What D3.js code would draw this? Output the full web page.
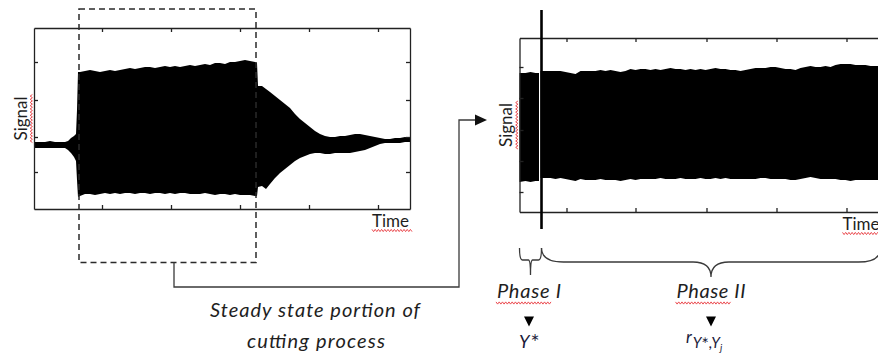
<!DOCTYPE html>
<html>
<head>
<meta charset="utf-8">
<script src="https://cdn.jsdelivr.net/npm/d3@7"></script>
<style>
  html, body { margin: 0; padding: 0; background: #fff; }
  svg { display: block; }
  text { font-family: Lato, "Open Sans", sans-serif; }
</style>
</head>
<body>
<svg id="fig" width="878" height="361"></svg>
<script>
// whole cut: sample index and upper / lower envelope of the signal
const fullTime = [0, 60, 110, 160, 210, 260, 310, 340, 370, 400, 420, 430, 440,
  460, 510, 560, 610, 660, 710, 760, 810, 860, 910, 960, 1010, 1060, 1110, 1160, 1210, 1260, 1310,
  1360, 1410, 1460, 1510, 1560, 1610, 1660, 1710, 1760, 1810, 1860, 1910, 1960, 2010, 2060, 2110, 2160, 2210,
  2230, 2240, 2280, 2320, 2360,
  2410, 2460, 2510, 2560, 2610, 2660, 2710, 2760, 2810, 2860, 2910, 2960, 3010, 3060, 3110, 3160,
  3210, 3260, 3310, 3360, 3410, 3460, 3510, 3560, 3610, 3660, 3710, 3760]
const fullUpper = [3, 3, 3, 4, 3, 3, 3, 4, 7, 9, 11, 35, 73,
  73, 74, 75, 74, 73, 74, 75, 74, 75, 76, 77, 76, 77, 78, 78, 77, 78, 79,
  78, 79, 78, 79, 80, 79, 80, 81, 80, 82, 82, 81, 83, 83, 84, 85, 84, 83,
  82, 59, 59, 56, 53,
  49, 45, 41, 37, 31, 26, 22, 18, 14, 11, 9, 8, 8, 9, 9, 10,
  11, 11, 10, 9, 8, 7, 6, 6, 7, 7, 8, 7]
const fullLower = [-3, -3, -3, -3, -3, -3, -3, -5, -8, -12, -16, -35, -52,
  -51, -49, -49, -50, -49, -48, -49, -48, -49, -48, -48, -49, -48, -48, -49, -48, -48, -49,
  -48, -49, -48, -48, -49, -49, -49, -48, -49, -50, -49, -49, -50, -49, -50, -50, -50, -51,
  -51, -42, -41, -44, -39,
  -33, -28, -24, -20, -16, -13, -11, -9, -8, -8, -9, -9, -8, -8, -8, -8,
  -7, -6, -5, -3, -1, 1, 2, 2, 2, 2, 3, 3]
const fullTicksX = [680, 1370, 2060, 2750, 3440]
const fullTicksY = [-27, 8, 45, 83]
const steadyWindow = [450, 2220]

// steady state part: phase I and phase II envelopes
const phase1Time = [0, 60, 110, 160, 195]
const phase1Upper = [53, 53, 54, 53, 53]
const phase1Lower = [-56, -55, -56, -55, -55]
const phase2Time = [210, 260, 310, 360, 410, 460, 510, 560, 610, 660,
  710, 760, 810, 860, 910, 960, 1010, 1060, 1110, 1160,
  1210, 1260, 1310, 1360, 1410, 1460, 1510, 1560, 1610, 1660,
  1710, 1760, 1810, 1860, 1910, 1960, 2010, 2060, 2110, 2160,
  2210, 2260, 2310, 2360, 2410, 2460, 2510, 2560, 2610, 2660,
  2710, 2760, 2810, 2860, 2910, 2960, 3010, 3060, 3110, 3160,
  3210, 3260, 3310, 3360, 3410, 3460, 3510, 3560, 3610, 3800]
const phase2Upper = [55, 55, 55, 55, 55, 54, 53, 52, 55, 55,
  55, 55, 56, 55, 56, 55, 54, 55, 57, 56,
  57, 57, 56, 57, 56, 57, 58, 57, 57, 56,
  57, 56, 57, 56, 57, 58, 57, 57, 56, 56,
  55, 56, 57, 58, 58, 58, 59, 59, 58, 57,
  57, 56, 58, 59, 60, 59, 59, 60, 59, 61,
  62, 62, 62, 61, 61, 61, 60, 60, 60, 60]
const phase2Lower = [-52, -52, -52, -53, -52, -53, -54, -55, -53, -54,
  -54, -54, -53, -54, -54, -54, -55, -54, -53, -54,
  -53, -53, -53, -53, -52, -53, -53, -53, -52, -53,
  -53, -53, -52, -53, -53, -52, -53, -52, -53, -53,
  -53, -53, -53, -53, -52, -52, -53, -53, -53, -53,
  -54, -54, -53, -52, -51, -52, -53, -53, -53, -53,
  -54, -54, -55, -54, -54, -54, -54, -54, -54, -54]
const steadyTicksX = [470, 1160, 1870, 2570, 3270]
const steadyTicksY = [-66, -35, -4, 28, 59]
const phaseSplit = 220
const phaseSpans = [[0, 220], [220, 3610]]
const phaseNames = ['Phase I', 'Phase II']

const svg = d3.select('#fig')
const ink = '#1e1e1e'

function zip(time, upper, lower) {
  return time.map((t, i) => ({ t: t, hi: upper[i], lo: lower[i] }))
}

function drawPanel(p) {
  const x = d3.scaleLinear().domain(p.xDomain).range([p.left, p.right])
  const y = d3.scaleLinear().domain(p.yDomain).range([p.bottom, p.top])
  const g = svg.append('g')

  const area = d3.area()
    .x(d => x(d.t))
    .y0(d => y(d.lo))
    .y1(d => y(d.hi))
  p.series.forEach(s => {
    g.append('path').datum(s).attr('d', area).attr('fill', '#000')
  })

  // frame with inward ticks on all four sides
  const axes = [
    [d3.axisBottom(x).tickValues(p.ticksX), `translate(0,${p.bottom})`],
    [d3.axisTop(x).tickValues(p.ticksX), `translate(0,${p.top})`],
    [d3.axisLeft(y).tickValues(p.ticksY), `translate(${p.left},0)`],
    [d3.axisRight(y).tickValues(p.ticksY), `translate(${p.right},0)`],
  ]
  axes.forEach(([ax, tr]) => {
    g.append('g')
      .attr('transform', tr)
      .call(ax.tickSizeInner(-4).tickSizeOuter(0).tickFormat(''))
      .call(a => a.selectAll('path, line').attr('stroke', '#222').attr('stroke-width', 1.3))
  })

  g.append('text')
    .attr('transform', `translate(${p.left - 7.5},${(p.top + p.bottom) / 2}) rotate(-90)`)
    .attr('text-anchor', 'middle')
    .attr('font-size', 17)
    .attr('fill', ink)
    .text('Signal')
  squiggle(p.left - 2.7, (p.top + p.bottom) / 2 - 24, p.left - 2.7, (p.top + p.bottom) / 2 + 24)

  g.append('text')
    .attr('x', p.timeX)
    .attr('y', p.bottom + 18)
    .attr('font-size', 17)
    .attr('fill', ink)
    .text('Time')
  squiggle(p.timeX, p.bottom + 21.5, p.timeX + 40, p.bottom + 21.5)

  return { x, y }
}

function squiggle(x0, y0, x1, y1) {
  const len = Math.hypot(x1 - x0, y1 - y0)
  const n = Math.round(len / 1.6)
  const ux = (x1 - x0) / len, uy = (y1 - y0) / len
  const pts = d3.range(n + 1).map(i => {
    const s = i * len / n, o = (i % 2 ? 1 : -1) * 1.1
    return [x0 + ux * s - uy * o, y0 + uy * s + ux * o]
  })
  svg.append('path').attr('d', d3.line()(pts))
    .attr('fill', 'none').attr('stroke', '#e8383d').attr('stroke-width', 0.9)
}

// left: whole cutting signal
const full = drawPanel({
  left: 34, right: 410, top: 28, bottom: 209,
  xDomain: [0, 3760], yDomain: [-64, 117],
  ticksX: fullTicksX, ticksY: fullTicksY, timeX: 372,
  series: [zip(fullTime, fullUpper, fullLower)],
})

// right: steady state portion
const steady = drawPanel({
  left: 519.5, right: 899.5, top: 38, bottom: 212,
  xDomain: [0, 3800], yDomain: [-86, 88],
  ticksX: steadyTicksX, ticksY: steadyTicksY, timeX: 842.5,
  series: [zip(phase1Time, phase1Upper, phase1Lower), zip(phase2Time, phase2Upper, phase2Lower)],
})

// phase boundary marker
const splitX = steady.x(phaseSplit)
svg.append('line')
  .attr('x1', splitX).attr('x2', splitX)
  .attr('y1', 10).attr('y2', 229)
  .attr('stroke', '#000').attr('stroke-width', 2.6)

// dashed box around the steady state window
const bx0 = full.x(steadyWindow[0]), bx1 = full.x(steadyWindow[1])
svg.append('rect')
  .attr('x', bx0).attr('y', 9)
  .attr('width', bx1 - bx0).attr('height', 253.5)
  .attr('fill', 'none').attr('stroke', '#2a2a2a')
  .attr('stroke-width', 1.5).attr('stroke-dasharray', '6,4')

// connector to the right panel
const cx = full.x(1400)
svg.append('path')
  .attr('d', `M${cx},262.5V287H459V120H477`)
  .attr('fill', 'none').attr('stroke', '#3a3a3a').attr('stroke-width', 1.3)
svg.append('path')
  .attr('d', 'M475,114.5L487,120L475,125.5Z')
  .attr('fill', '#111')

svg.append('text')
  .attr('x', 315).attr('y', 317)
  .attr('text-anchor', 'middle').attr('font-size', 20).attr('font-style', 'italic')
  .attr('textLength', 210).attr('lengthAdjust', 'spacing')
  .attr('fill', ink).text('Steady state portion of')
svg.append('text')
  .attr('x', 316).attr('y', 348)
  .attr('text-anchor', 'middle').attr('font-size', 20).attr('font-style', 'italic')
  .attr('textLength', 138).attr('lengthAdjust', 'spacing')
  .attr('fill', ink).text('cutting process')

// braces under the phases
function brace(x0, x1, yTop, yBar, yTip, rEnd, rTip) {
  const xm = (x0 + x1) / 2
  return `M${x0},${yTop}Q${x0},${yBar} ${x0 + rEnd},${yBar}L${xm - rTip},${yBar}` +
    `Q${xm},${yBar} ${xm},${yTip}Q${xm},${yBar} ${xm + rTip},${yBar}` +
    `L${x1 - rEnd},${yBar}Q${x1},${yBar} ${x1},${yTop}`
}
const braceStyle = [
  { yBar: 260, yTip: 275, rEnd: 3, rTip: 2 },
  { yBar: 262, yTip: 277, rEnd: 22, rTip: 18 },
]
const labelWidths = [64, 69]
phaseSpans.forEach((span, i) => {
  const x0 = steady.x(span[0]), x1 = steady.x(span[1])
  const xm = (x0 + x1) / 2 - (i === 0 ? 1.5 : 0)
  const b = braceStyle[i]
  svg.append('path')
    .attr('d', brace(x0, x1, 248, b.yBar, b.yTip, b.rEnd, b.rTip))
    .attr('fill', 'none').attr('stroke', '#3a3a3a').attr('stroke-width', 1.3)
  svg.append('text')
    .attr('x', xm).attr('y', 298)
    .attr('text-anchor', 'middle').attr('font-size', 20).attr('font-style', 'italic')
    .attr('textLength', labelWidths[i]).attr('lengthAdjust', 'spacing')
    .attr('fill', ink).text(phaseNames[i])
  squiggle(xm - labelWidths[i] / 2 - 1, 303, xm - labelWidths[i] / 2 + 54, 303)
  svg.append('path')
    .attr('d', `M${xm - 5},316.5L${xm + 5},316.5L${xm},326.5Z`)
    .attr('fill', '#000')
})

// statistics under the phases
const mathFont = '"Liberation Serif", "DejaVu Serif", serif'
const starFont = '"DejaVu Sans", sans-serif'
const p1 = (steady.x(phaseSpans[0][0]) + steady.x(phaseSpans[0][1])) / 2 - 1.5
const yStar = svg.append('text')
  .attr('x', p1 - 10).attr('y', 348)
  .attr('font-family', mathFont).attr('font-style', 'italic')
  .attr('font-size', 18).attr('fill', '#1a1a3a')
yStar.append('tspan').text('Y')
yStar.append('tspan').attr('font-family', starFont).attr('font-style', 'normal')
  .attr('font-size', 11).attr('dx', 1).attr('dy', -7).text('∗')

const p2 = (steady.x(phaseSpans[1][0]) + steady.x(phaseSpans[1][1])) / 2
const rLab = svg.append('text')
  .attr('x', p2 - 25).attr('y', 342.5)
  .attr('font-family', mathFont).attr('font-style', 'italic')
  .attr('font-size', 17).attr('fill', '#1a1a3a')
rLab.append('tspan').text('r')
rLab.append('tspan').attr('font-size', 15).attr('dx', 1).attr('dy', 5.5).text('Y')
rLab.append('tspan').attr('font-family', starFont).attr('font-style', 'normal')
  .attr('font-size', 9).attr('dy', -5).text('∗')
rLab.append('tspan').attr('font-size', 15).attr('dy', 5).text(',Y')
rLab.append('tspan').attr('font-size', 10).attr('dy', 2.5).text('j')
</script>
</body>
</html>
